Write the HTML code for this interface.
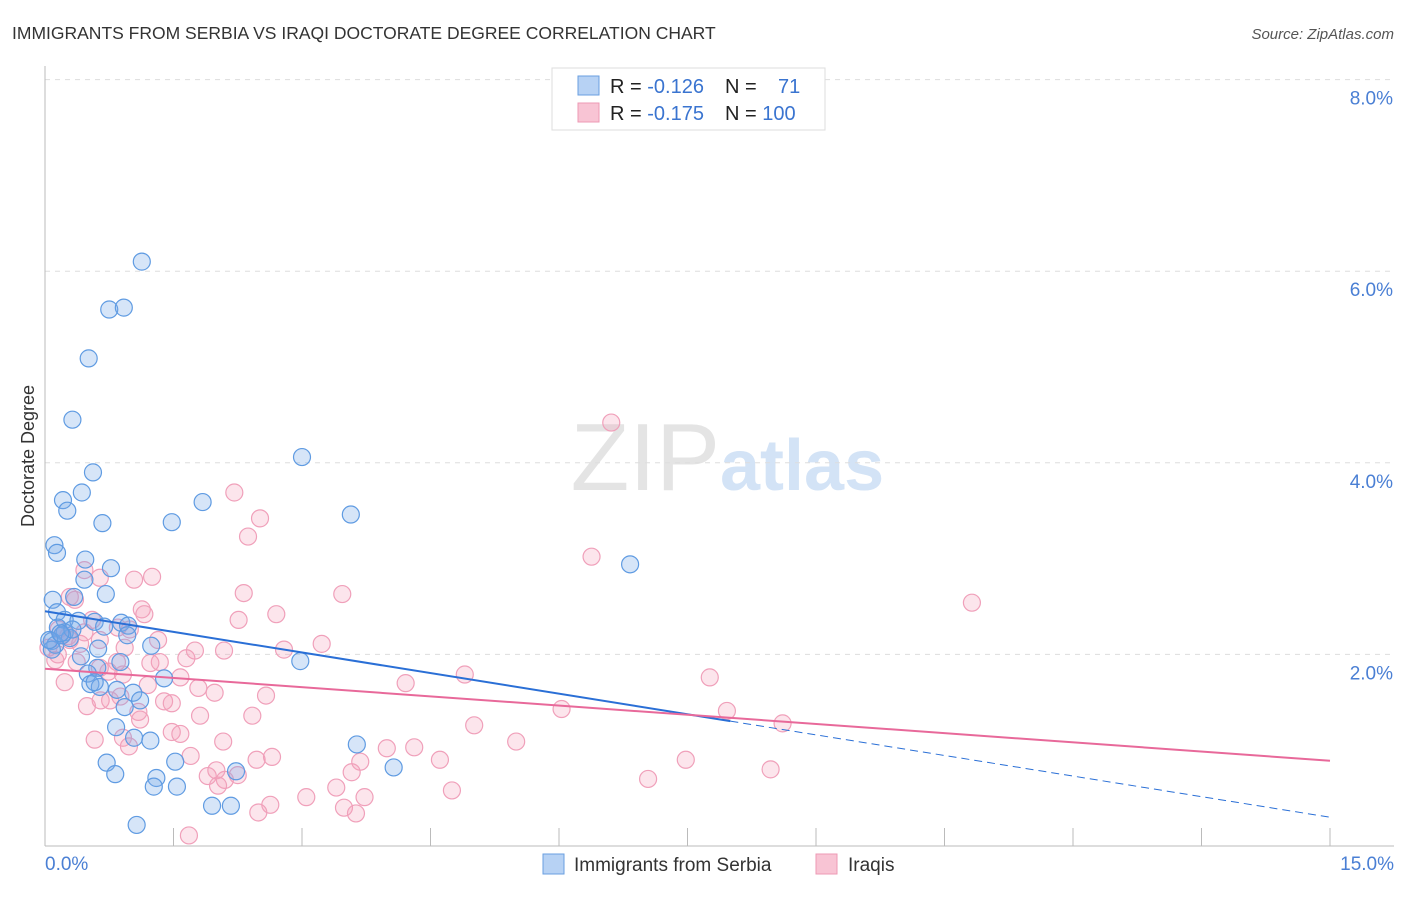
<!DOCTYPE html>
<html><head><meta charset="utf-8">
<style>
body{margin:0;background:#fff;font-family:"Liberation Sans",sans-serif;}
svg text{font-family:"Liberation Sans",sans-serif;}
</style></head>
<body>
<svg id="chart" width="1406" height="892" viewBox="0 0 1406 892" xmlns="http://www.w3.org/2000/svg">
<text x="12" y="39" font-size="17.5" fill="#333">IMMIGRANTS FROM SERBIA VS IRAQI DOCTORATE DEGREE CORRELATION CHART</text>
<text x="1394" y="39" font-size="15" fill="#555" text-anchor="end" font-style="italic">Source: ZipAtlas.com</text>
<text x="720" y="490" font-size="96" fill="#e4e4e4" text-anchor="end" font-family="Liberation Serif">ZIP</text>
<text x="720" y="490" font-size="72" fill="#d3e3f6" font-weight="bold">atlas</text>
<text transform="translate(34,456) rotate(-90)" font-size="18" fill="#333" text-anchor="middle">Doctorate Degree</text>
<g id="grid"></g>
<g id="axes"></g>
<g id="pts"></g>
<g id="trend"></g>
<g>
<rect x="552" y="68" width="273" height="62" fill="#fff" stroke="#ddd"/>
<rect x="578" y="76" width="21" height="19" fill="#b7d2f4" stroke="#6a9fe0"/>
<rect x="578" y="103" width="21" height="19" fill="#f8c4d4" stroke="#ee9ab4"/>
<text x="610" y="93" font-size="20" fill="#222">R = <tspan fill="#3a74d0">-0.126</tspan></text>
<text x="725" y="93" font-size="20" fill="#222">N = <tspan x="778" fill="#3a74d0">71</tspan></text>
<text x="610" y="120" font-size="20" fill="#222">R = <tspan fill="#3a74d0">-0.175</tspan></text>
<text x="725" y="120" font-size="20" fill="#222">N = <tspan fill="#3a74d0">100</tspan></text>
</g>
<g>
<rect x="543" y="854" width="21" height="20" fill="#b7d2f4" stroke="#6a9fe0"/>
<text x="574" y="871" font-size="19" fill="#333">Immigrants from Serbia</text>
<rect x="816" y="854" width="21" height="20" fill="#f8c4d4" stroke="#ee9ab4"/>
<text x="848" y="871" font-size="19" fill="#333">Iraqis</text>
</g>
</svg>
<script>
const serbiaX=[1.13,0.75,0.92,0.51,0.32,0.56,0.43,0.21,0.26,0.67,1.48,1.84,3.00,3.57,6.83,0.11,0.14,0.47,0.77,0.46,0.09,0.34,0.71,0.14,0.23,0.39,0.58,0.89,0.97,0.69,0.15,0.23,0.29,0.08,0.12,0.08,0.62,1.24,0.96,2.98,0.88,0.61,0.50,1.39,0.53,0.64,0.84,1.03,1.11,0.93,0.83,1.04,1.23,3.64,0.72,0.82,1.30,1.27,1.54,2.23,4.07,1.95,2.17,1.07,1.52,0.58,0.20,0.05,0.32,0.42,0.18];
const serbiaY=[6.10,5.60,5.62,5.09,4.45,3.90,3.69,3.61,3.50,3.37,3.38,3.59,4.06,3.46,2.94,3.14,3.06,2.99,2.90,2.78,2.57,2.60,2.63,2.44,2.36,2.35,2.34,2.33,2.30,2.29,2.28,2.23,2.17,2.14,2.10,2.05,2.06,2.09,2.20,1.93,1.92,1.86,1.80,1.75,1.69,1.66,1.63,1.60,1.52,1.45,1.24,1.13,1.10,1.06,0.87,0.75,0.71,0.62,0.62,0.78,0.82,0.42,0.42,0.22,0.88,1.71,2.20,2.15,2.26,1.98,2.22];
const iraqisX=[6.61,2.21,2.51,2.37,6.38,10.82,1.25,1.04,0.64,0.46,0.29,0.35,3.47,2.32,2.70,2.26,1.13,0.55,0.85,0.16,0.27,0.41,0.64,0.93,1.32,3.23,2.79,2.09,1.75,1.65,1.34,1.23,0.84,0.37,0.64,0.74,0.91,1.58,4.90,4.21,7.76,0.23,1.79,1.20,1.98,2.58,0.65,0.88,1.39,1.48,0.49,1.09,1.11,1.81,2.42,5.01,6.03,7.96,8.61,1.48,1.58,0.91,2.08,5.50,3.99,4.31,0.98,1.70,2.65,2.47,3.68,4.61,7.48,8.47,3.58,1.90,2.25,2.10,2.02,7.04,3.40,4.75,3.05,2.63,3.73,2.49,3.49,3.63,1.68,2.00,0.12,0.04,0.76,0.58,0.46,0.99,1.16,0.20,0.29,0.15];
const iraqisY=[4.42,3.69,3.42,3.23,3.02,2.54,2.81,2.78,2.80,2.88,2.60,2.57,2.63,2.64,2.42,2.36,2.47,2.36,2.28,2.26,2.19,2.11,2.15,2.07,2.15,2.11,2.05,2.04,2.04,1.96,1.92,1.91,1.92,1.92,1.86,1.82,1.79,1.76,1.79,1.70,1.76,1.71,1.65,1.68,1.60,1.57,1.52,1.56,1.51,1.49,1.46,1.40,1.32,1.36,1.36,1.26,1.43,1.41,1.28,1.19,1.17,1.13,1.09,1.09,1.02,1.03,1.04,0.94,0.93,0.90,0.88,0.90,0.90,0.80,0.77,0.73,0.74,0.69,0.63,0.70,0.61,0.58,0.51,0.43,0.51,0.35,0.40,0.34,0.11,0.79,1.94,2.07,1.52,1.11,2.23,2.26,2.42,2.20,2.15,2.00];
const serbiaTrend=[2.45,0.30];   // y at x=0, y at x=15
const serbiaSolidEnd=[8.0];
const iraqisTrend=[1.85,0.89];
const yTicks=[2,4,6,8];
const yTickLabels=["2.0%","4.0%","6.0%","8.0%"];
const xTicks=[0,1.5,3,4.5,6,7.5,9,10.5,12,13.5,15];
const xEndLabels=["0.0%","15.0%"];

const X0=45,X1=1330,Y0=846,PY=95.8;
const sx=v=>X0+(v/15)*(X1-X0);
const sy=v=>Y0-v*PY;
const NS="http://www.w3.org/2000/svg";
function mk(tag,attrs,parent){const e=document.createElementNS(NS,tag);for(const k in attrs)e.setAttribute(k,attrs[k]);parent.appendChild(e);return e;}

const grid=document.getElementById('grid');
yTicks.forEach((t,i)=>{
  const l=mk('line',{x1:X0,x2:1394,y1:sy(t),y2:sy(t),stroke:'#ddd','stroke-dasharray':'5,5'},grid);
  
  
  const tx=mk('text',{x:1393,y:sy(t)+25,'font-size':19,fill:'#4a7fd4','text-anchor':'end'},grid);
  tx.textContent=yTickLabels[i];
  
  
});
const axes=document.getElementById('axes');
const ya=mk('line',{x1:X0,x2:X0,y1:66,y2:846,stroke:'#bbb'},axes);


const xa=mk('line',{x1:X0,x2:1394,y1:846,y2:846,stroke:'#bbb'},axes);


xTicks.forEach(t=>{
  const l=mk('line',{x1:sx(t),x2:sx(t),y1:828,y2:846,stroke:'#bbb'},axes);
  
  
});
const xl0=mk('text',{x:45,y:870,'font-size':19,fill:'#4a7fd4'},axes);
xl0.textContent=xEndLabels[0];


const xl1=mk('text',{x:1394,y:870,'font-size':19,fill:'#4a7fd4','text-anchor':'end'},axes);
xl1.textContent=xEndLabels[1];



const pts=document.getElementById('pts');
iraqisX.forEach((x,i)=>{
  const c=mk('circle',{cx:sx(x),cy:sy(iraqisY[i]),r:8.5,fill:'rgba(244,160,188,0.28)',stroke:'#f0a0ba','stroke-width':1.2},pts);
  
  
});
serbiaX.forEach((x,i)=>{
  const c=mk('circle',{cx:sx(x),cy:sy(serbiaY[i]),r:8.5,fill:'rgba(120,170,232,0.3)',stroke:'#5f9be2','stroke-width':1.2},pts);
  
  
});

const tr=document.getElementById('trend');
const by=x=>serbiaTrend[0]+(serbiaTrend[1]-serbiaTrend[0])*x/15;
const b1=mk('line',{x1:sx(0),y1:sy(by(0)),x2:sx(serbiaSolidEnd[0]),y2:sy(by(serbiaSolidEnd[0])),stroke:'#2a6fd6','stroke-width':2},tr);


const b2=mk('line',{x1:sx(serbiaSolidEnd[0]),y1:sy(by(serbiaSolidEnd[0])),x2:sx(15),y2:sy(by(15)),stroke:'#2a6fd6','stroke-width':1,'stroke-dasharray':'8,5'},tr);


const p1=mk('line',{x1:sx(0),y1:sy(iraqisTrend[0]),x2:sx(15),y2:sy(iraqisTrend[1]),stroke:'#e8699a','stroke-width':2},tr);


</script>
</body></html>
